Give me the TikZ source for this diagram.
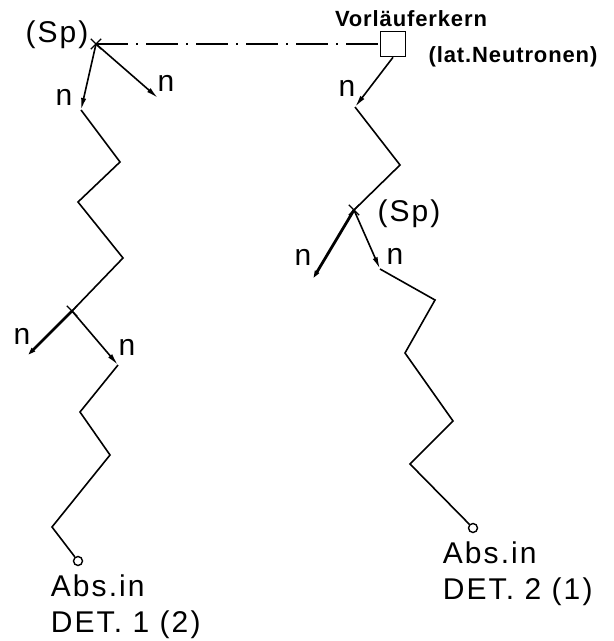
\documentclass[tikz,border=0pt]{standalone}
\usepackage{fontspec}
\setmainfont{Liberation Sans}
\newfontfamily\drawfont[LetterSpace=7]{Liberation Sans}
\newfontfamily\drawbold[LetterSpace=4]{Liberation Sans Bold}
\usetikzlibrary{arrows.meta,shapes.misc}

\begin{document}
\begin{tikzpicture}[x=0.5pt, y=-0.5pt, line width=0.8pt,
    >={Latex[length=6pt,width=2.6pt]},
    every node/.style={inner sep=0pt},
    spmark/.style={cross out, draw, minimum size=4.5pt, line width=0.7pt},
    absorb/.style={circle, draw, minimum size=4.5pt, line width=0.7pt},
    kern/.style={rectangle, draw, minimum size=12.5pt, line width=0.8pt},
    lab/.style={font=\drawfont\fontsize{15}{18}\selectfont},
    smalllab/.style={font=\drawbold\fontsize{11}{13}\selectfont},
    heavy/.style={line width=1.4pt},
    chain/.style={dash pattern=on 16pt off 4pt on 1pt off 4pt, line width=0.7pt}]
    \useasboundingbox (0,0) rectangle (614,641);

    % left chain
    \node [spmark] (sp1) at (96,44) {};
    \node [lab] (sp1lab) at (57,35) {(Sp)};
    \coordinate (a1) at (81,110);
    \coordinate (a2) at (158,98);
    \node [lab] (a1lab) at (64,97) {n};
    \node [lab] (a2lab) at (166,83) {n};
    \node [spmark] (sp2) at (72,311) {};
    \coordinate (b1) at (25,358);
    \coordinate (b2) at (118,365);
    \node [lab] (b1lab) at (22,336) {n};
    \node [lab] (b2lab) at (127,347) {n};
    \node [absorb] (abs1) at (78,561) {};
    \node [lab, align=left, anchor=north west] (det1) at (50,574) {Abs.in\\DET. 1 (2)};

    % right chain
    \node [kern] (vk) at (393,44) {};
    \node [smalllab] (vklab) at (411,19) {Vorläuferkern};
    \node [smalllab] (latlab) at (513,57) {(lat.Neutronen)};
    \coordinate (c1) at (355,107);
    \node [lab] (c1lab) at (347,88) {n};
    \node [spmark] (sp3) at (354,210) {};
    \node [lab] (sp3lab) at (409,214) {(Sp)};
    \coordinate (d1) at (311,282);
    \coordinate (d2) at (380,269);
    \node [lab] (d1lab) at (303,257) {n};
    \node [lab] (d2lab) at (395,256) {n};
    \node [absorb] (abs2) at (473,528) {};
    \node [lab, align=left, anchor=north west] (det2) at (442,541) {Abs.in\\DET. 2 (1)};

    \draw [chain] (sp1.center) -- (vk.west);

    \draw [->] (sp1.center) -- (a1);
    \draw [->] (sp1.center) -- (a2);
    \draw (a1) -- (120,162) -- (78,202) -- (123,258) -- (sp2.center);
    \draw [->, heavy] (sp2.center) -- (b1);
    \draw [->] (sp2.center) -- (b2);
    \draw (b2) -- (80,412) -- (110,455) -- (52,527) -- (abs1);

    \draw [->] (vk.south) -- (c1);
    \draw (c1) -- (400,165) -- (sp3.center);
    \draw [->, heavy] (sp3.center) -- (d1);
    \draw [->] (sp3.center) -- (d2);
    \draw (d2) -- (435,300) -- (405,353) -- (453,421) -- (410,464) -- (abs2);
\end{tikzpicture}
\end{document}
